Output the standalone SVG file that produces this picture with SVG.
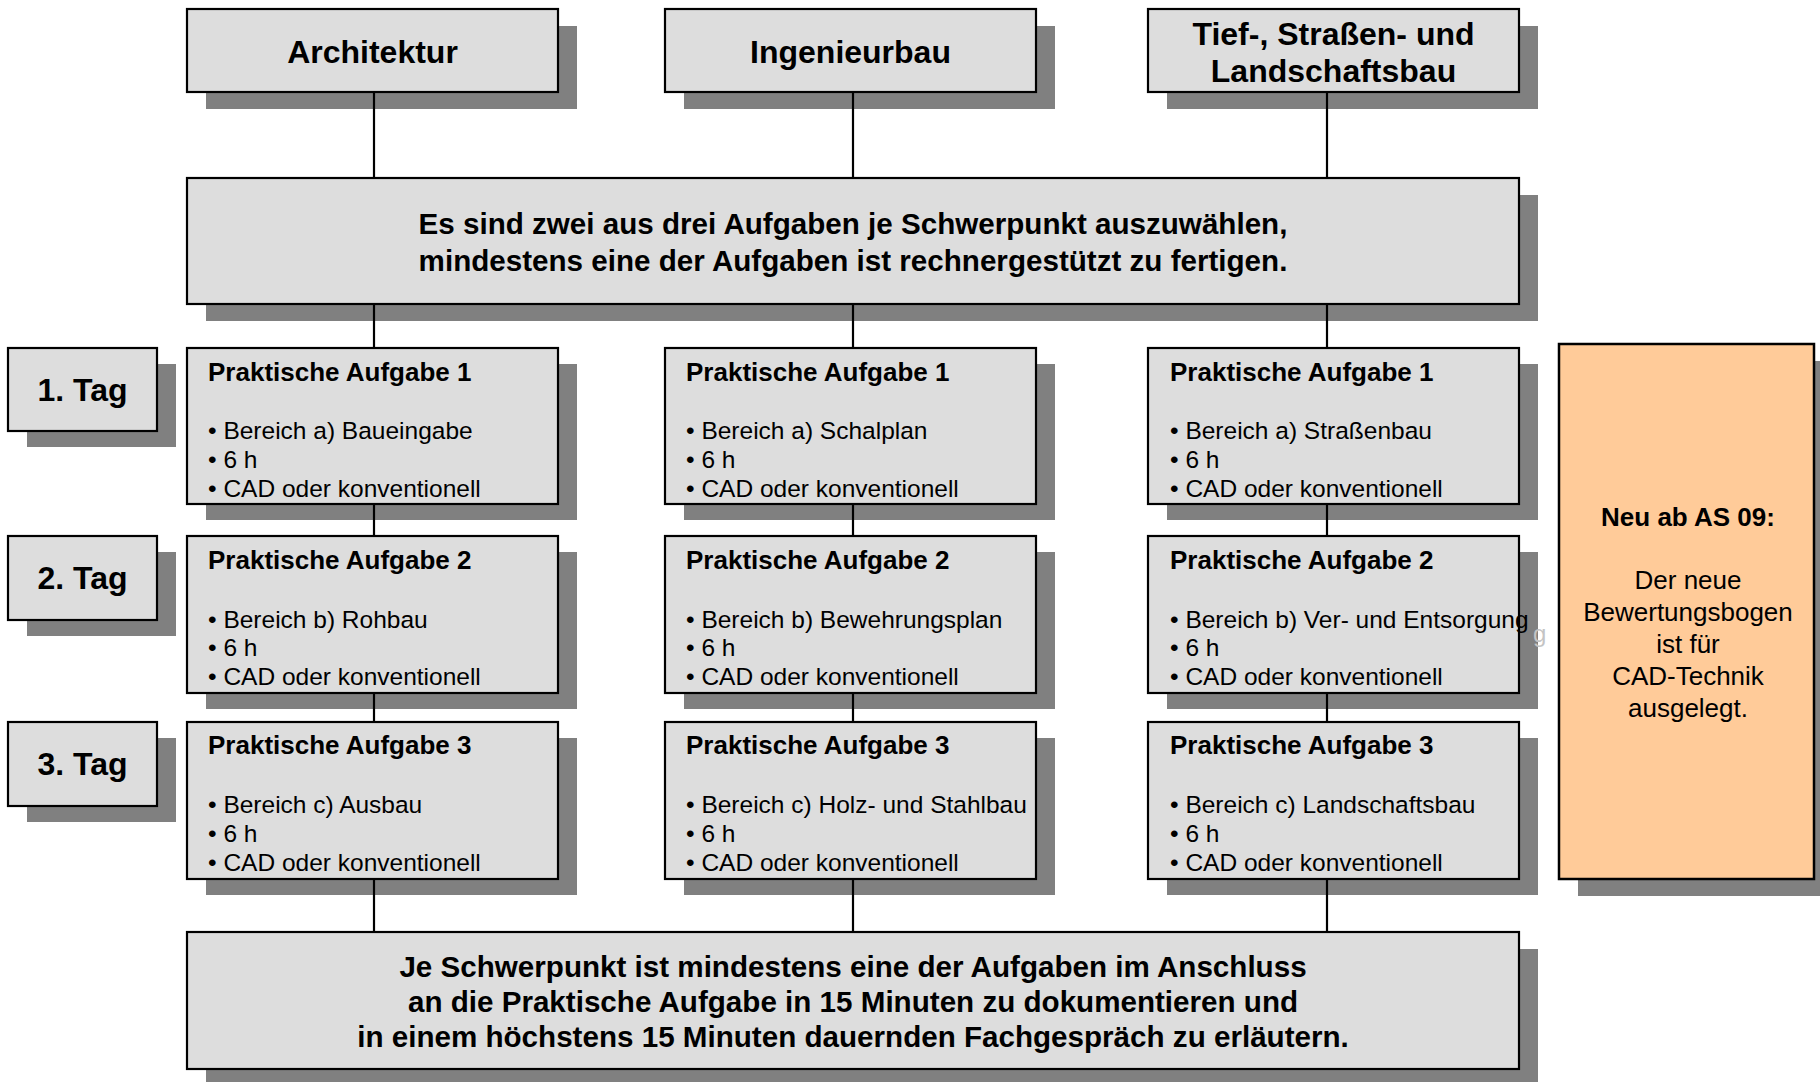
<svg xmlns="http://www.w3.org/2000/svg" width="1820" height="1082" viewBox="0 0 1820 1082">
<style>
.sh{fill:#808080}
.bx{fill:#dddddd;stroke:#000;stroke-width:2.2}
.or{fill:#ffcb99;stroke:#000;stroke-width:2.5}
.cn{stroke:#000;stroke-width:2.2;fill:none}
text{font-family:"Liberation Sans",Arial,Helvetica,sans-serif;fill:#000}
.hdr{font-size:32px;font-weight:bold;text-anchor:middle}
.mn{font-size:29.6px;font-weight:bold;text-anchor:middle}
.pt{font-size:26px;font-weight:bold}
.bl{font-size:24.5px}
.tag{font-size:32px;font-weight:bold;text-anchor:middle}
.ot{font-size:26px;text-anchor:middle}
.otb{font-size:26px;font-weight:bold;text-anchor:middle}
</style>
<rect width="1820" height="1082" fill="#fff"/>

<!-- header nodes -->
<g id="architektur">
<rect class="sh" x="206" y="26" width="371" height="83"/>
<rect class="bx" x="187" y="9" width="371" height="83"/>
<text class="hdr" x="372.5" y="63">Architektur</text>
</g>
<g id="ingenieurbau">
<rect class="sh" x="684" y="26" width="371" height="83"/>
<rect class="bx" x="665" y="9" width="371" height="83"/>
<text class="hdr" x="850.5" y="63">Ingenieurbau</text>
</g>
<g id="tiefbau">
<rect class="sh" x="1167" y="26" width="371" height="83"/>
<rect class="bx" x="1148" y="9" width="371" height="83"/>
<text class="hdr" x="1333.5" y="45">Tief-, Straßen- und</text>
<text class="hdr" x="1333.5" y="82">Landschaftsbau</text>
</g>

<g id="auswahl">
<rect class="sh" x="206" y="195" width="1332" height="126"/>
<rect class="bx" x="187" y="178" width="1332" height="126"/>
<text class="mn" x="853" y="234">Es sind zwei aus drei Aufgaben je Schwerpunkt auszuwählen,</text>
<text class="mn" x="853" y="271">mindestens eine der Aufgaben ist rechnergestützt zu fertigen.</text>
</g>

<!-- day labels -->
<g id="tag1">
<rect class="sh" x="27" y="364" width="149" height="83"/>
<rect class="bx" x="8" y="348" width="149" height="83"/>
<text class="tag" x="82.5" y="401">1. Tag</text>
</g>
<g id="tag2">
<rect class="sh" x="27" y="552" width="149" height="84"/>
<rect class="bx" x="8" y="536" width="149" height="84"/>
<text class="tag" x="82.5" y="589">2. Tag</text>
</g>
<g id="tag3">
<rect class="sh" x="27" y="738" width="149" height="84"/>
<rect class="bx" x="8" y="722" width="149" height="84"/>
<text class="tag" x="82.5" y="775">3. Tag</text>
</g>

<!-- Architektur column -->
<g id="a1">
<rect class="sh" x="206" y="364" width="371" height="156"/>
<rect class="bx" x="187" y="348" width="371" height="156"/>
<text class="pt" x="208" y="381">Praktische Aufgabe 1</text>
<text class="bl" x="208" y="439">• Bereich a) Baueingabe</text>
<text class="bl" x="208" y="468">• 6 h</text>
<text class="bl" x="208" y="497">• CAD oder konventionell</text>
</g>
<g id="a2">
<rect class="sh" x="206" y="552" width="371" height="157"/>
<rect class="bx" x="187" y="536" width="371" height="157"/>
<text class="pt" x="208" y="569">Praktische Aufgabe 2</text>
<text class="bl" x="208" y="628">• Bereich b) Rohbau</text>
<text class="bl" x="208" y="656">• 6 h</text>
<text class="bl" x="208" y="685">• CAD oder konventionell</text>
</g>
<g id="a3">
<rect class="sh" x="206" y="738" width="371" height="157"/>
<rect class="bx" x="187" y="722" width="371" height="157"/>
<text class="pt" x="208" y="754">Praktische Aufgabe 3</text>
<text class="bl" x="208" y="813">• Bereich c) Ausbau</text>
<text class="bl" x="208" y="842">• 6 h</text>
<text class="bl" x="208" y="871">• CAD oder konventionell</text>
</g>

<!-- Ingenieurbau column -->
<g id="i1">
<rect class="sh" x="684" y="364" width="371" height="156"/>
<rect class="bx" x="665" y="348" width="371" height="156"/>
<text class="pt" x="686" y="381">Praktische Aufgabe 1</text>
<text class="bl" x="686" y="439">• Bereich a) Schalplan</text>
<text class="bl" x="686" y="468">• 6 h</text>
<text class="bl" x="686" y="497">• CAD oder konventionell</text>
</g>
<g id="i2">
<rect class="sh" x="684" y="552" width="371" height="157"/>
<rect class="bx" x="665" y="536" width="371" height="157"/>
<text class="pt" x="686" y="569">Praktische Aufgabe 2</text>
<text class="bl" x="686" y="628">• Bereich b) Bewehrungsplan</text>
<text class="bl" x="686" y="656">• 6 h</text>
<text class="bl" x="686" y="685">• CAD oder konventionell</text>
</g>
<g id="i3">
<rect class="sh" x="684" y="738" width="371" height="157"/>
<rect class="bx" x="665" y="722" width="371" height="157"/>
<text class="pt" x="686" y="754">Praktische Aufgabe 3</text>
<text class="bl" x="686" y="813">• Bereich c) Holz- und Stahlbau</text>
<text class="bl" x="686" y="842">• 6 h</text>
<text class="bl" x="686" y="871">• CAD oder konventionell</text>
</g>

<!-- Tiefbau column -->
<g id="t1">
<rect class="sh" x="1167" y="364" width="371" height="156"/>
<rect class="bx" x="1148" y="348" width="371" height="156"/>
<text class="pt" x="1170" y="381">Praktische Aufgabe 1</text>
<text class="bl" x="1170" y="439">• Bereich a) Straßenbau</text>
<text class="bl" x="1170" y="468">• 6 h</text>
<text class="bl" x="1170" y="497">• CAD oder konventionell</text>
</g>
<g id="t2">
<rect class="sh" x="1167" y="552" width="371" height="157"/>
<text x="1533" y="642" style="font-size:24px;fill:#c4c4c4">g</text>
<rect class="bx" x="1148" y="536" width="371" height="157"/>
<text class="pt" x="1170" y="569">Praktische Aufgabe 2</text>
<text class="bl" x="1170" y="628">• Bereich b) Ver- und Entsorgung</text>
<text class="bl" x="1170" y="656">• 6 h</text>
<text class="bl" x="1170" y="685">• CAD oder konventionell</text>
</g>
<g id="t3">
<rect class="sh" x="1167" y="738" width="371" height="157"/>
<rect class="bx" x="1148" y="722" width="371" height="157"/>
<text class="pt" x="1170" y="754">Praktische Aufgabe 3</text>
<text class="bl" x="1170" y="813">• Bereich c) Landschaftsbau</text>
<text class="bl" x="1170" y="842">• 6 h</text>
<text class="bl" x="1170" y="871">• CAD oder konventionell</text>
</g>

<!-- note -->
<g id="neu">
<rect class="sh" x="1578" y="361" width="255" height="535"/>
<rect class="or" x="1559" y="344" width="255" height="535"/>
<text class="otb" x="1688" y="526">Neu ab AS 09:</text>
<text class="ot" x="1688" y="589">Der neue</text>
<text class="ot" x="1688" y="621">Bewertungsbogen</text>
<text class="ot" x="1688" y="653">ist für</text>
<text class="ot" x="1688" y="685">CAD-Technik</text>
<text class="ot" x="1688" y="717">ausgelegt.</text>
</g>

<g id="fachgespraech">
<rect class="sh" x="206" y="949" width="1332" height="137"/>
<rect class="bx" x="187" y="932" width="1332" height="137"/>
<text class="mn" x="853" y="977">Je Schwerpunkt ist mindestens eine der Aufgaben im Anschluss</text>
<text class="mn" x="853" y="1012">an die Praktische Aufgabe in 15 Minuten zu dokumentieren und</text>
<text class="mn" x="853" y="1047">in einem höchstens 15 Minuten dauernden Fachgespräch zu erläutern.</text>
</g>

<!-- connectors -->
<g id="connectors" class="cn">
<line x1="374" y1="93" x2="374" y2="177"/>
<line x1="853" y1="93" x2="853" y2="177"/>
<line x1="1327" y1="93" x2="1327" y2="177"/>
<line x1="374" y1="305" x2="374" y2="347"/>
<line x1="853" y1="305" x2="853" y2="347"/>
<line x1="1327" y1="305" x2="1327" y2="347"/>
<line x1="374" y1="505" x2="374" y2="535"/>
<line x1="853" y1="505" x2="853" y2="535"/>
<line x1="1327" y1="505" x2="1327" y2="535"/>
<line x1="374" y1="694" x2="374" y2="721"/>
<line x1="853" y1="694" x2="853" y2="721"/>
<line x1="1327" y1="694" x2="1327" y2="721"/>
<line x1="374" y1="880" x2="374" y2="931"/>
<line x1="853" y1="880" x2="853" y2="931"/>
<line x1="1327" y1="880" x2="1327" y2="931"/>
</g>
</svg>
